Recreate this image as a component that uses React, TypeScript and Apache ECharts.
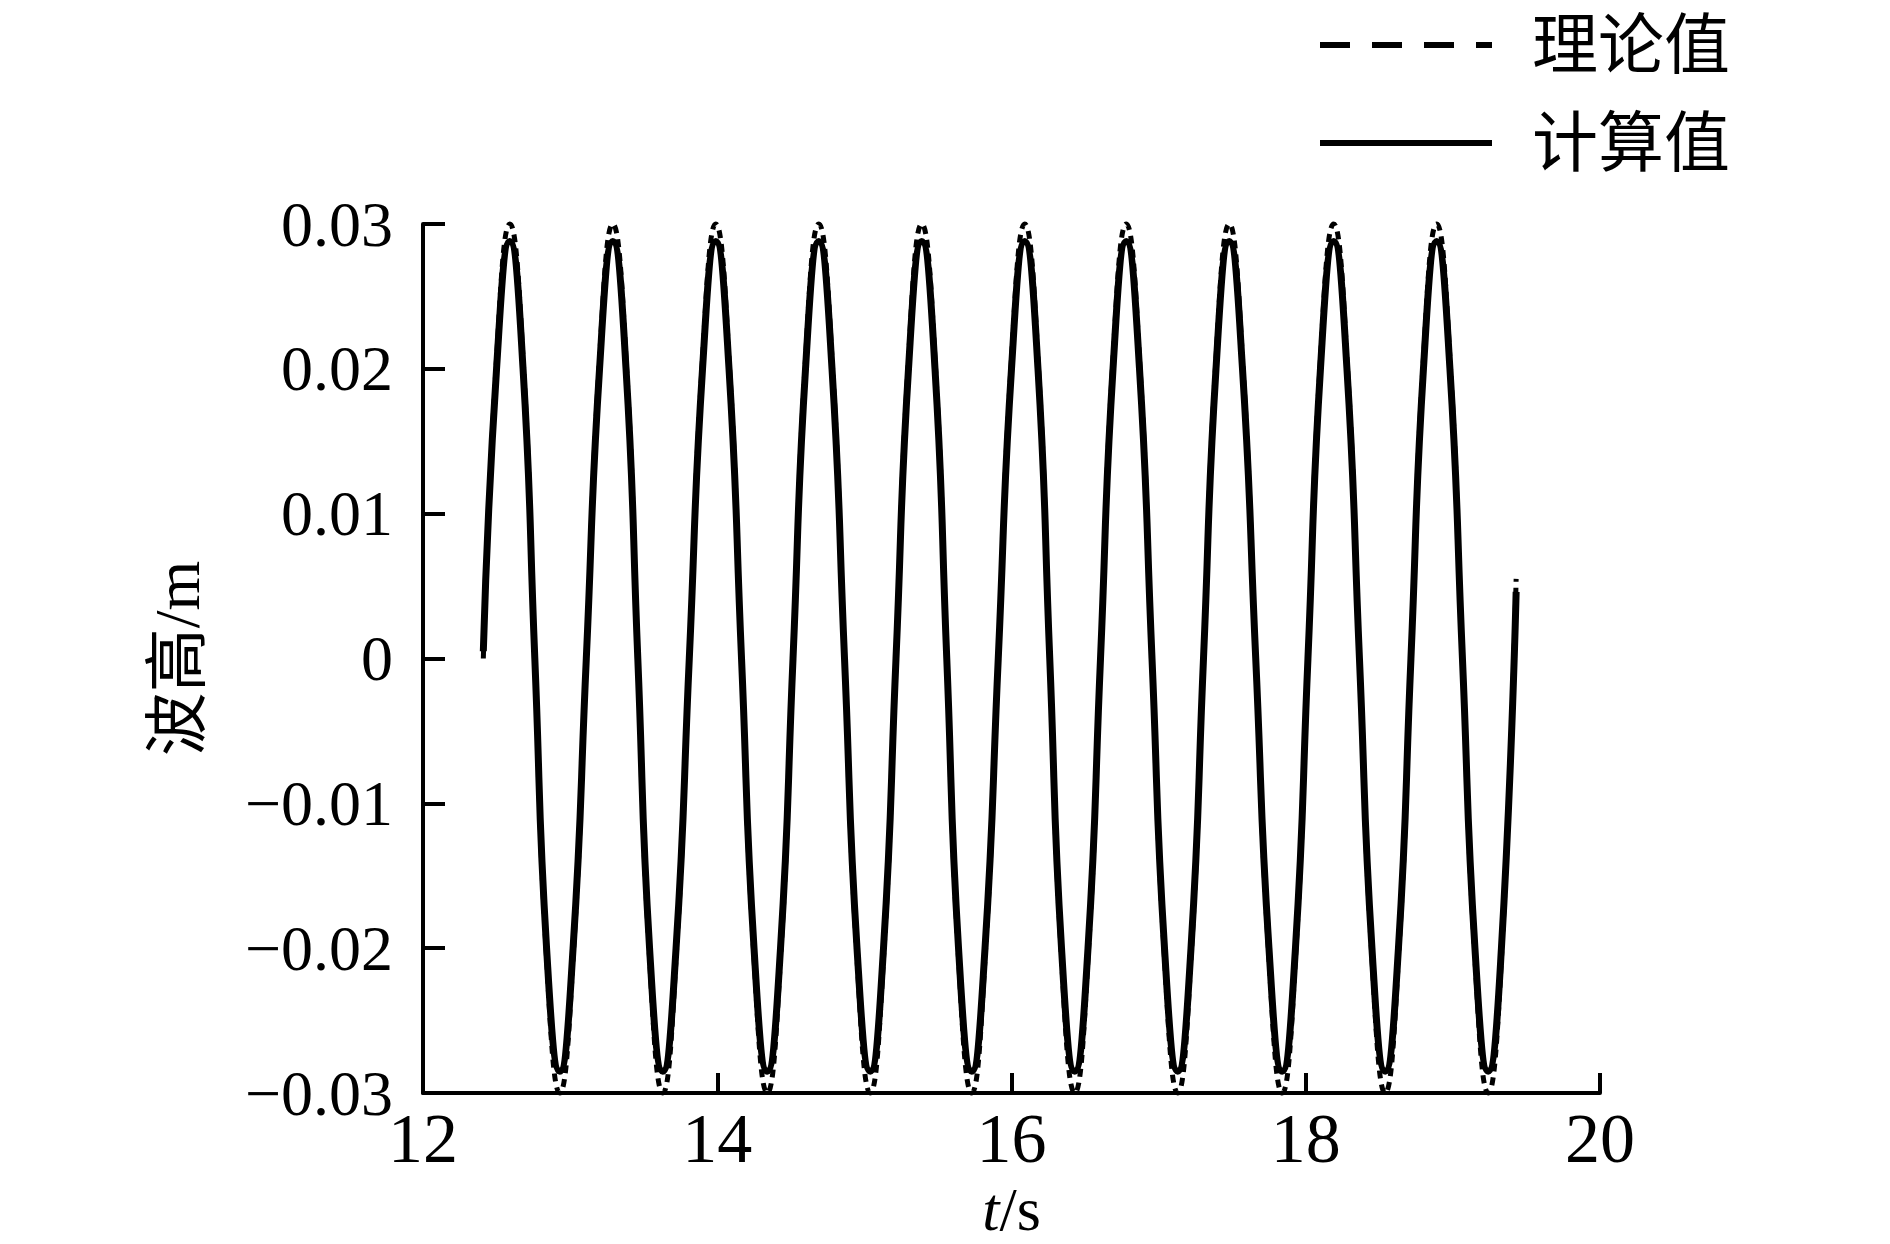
import React, { useEffect, useRef } from "react";
import * as echarts from "echarts";

// time stamps (s): start, then per cycle 0.02-level, peak, 0.02-level, zero, -0.02-level, trough, -0.02-level, zero
const timeS = [
  12.41,
  12.50, 12.59, 12.68, 12.76, 12.84, 12.93, 13.02, 13.11,
  13.20, 13.29, 13.38, 13.46, 13.54, 13.63, 13.72, 13.81,
  13.90, 13.99, 14.08, 14.165, 14.25, 14.34, 14.43, 14.515,
  14.60, 14.69, 14.78, 14.865, 14.95, 15.04, 15.13, 15.215,
  15.30, 15.39, 15.48, 15.56, 15.64, 15.73, 15.82, 15.91,
  16.00, 16.09, 16.18, 16.26, 16.34, 16.43, 16.52, 16.605,
  16.69, 16.78, 16.87, 16.955, 17.04, 17.13, 17.22, 17.305,
  17.39, 17.48, 17.57, 17.66, 17.75, 17.84, 17.93, 18.015,
  18.10, 18.19, 18.28, 18.365, 18.45, 18.54, 18.63, 18.715,
  18.80, 18.89, 18.98, 19.065, 19.15, 19.24, 19.33, 19.43,
];

// 计算值 (computed wave height, m)
const calcH = [
  0.0005,
  0.020, 0.0288, 0.020, 0, -0.020, -0.0285, -0.020, 0,
  0.020, 0.0288, 0.020, 0, -0.020, -0.0285, -0.020, 0,
  0.020, 0.0288, 0.020, 0, -0.020, -0.0285, -0.020, 0,
  0.020, 0.0288, 0.020, 0, -0.020, -0.0285, -0.020, 0,
  0.020, 0.0288, 0.020, 0, -0.020, -0.0285, -0.020, 0,
  0.020, 0.0288, 0.020, 0, -0.020, -0.0285, -0.020, 0,
  0.020, 0.0288, 0.020, 0, -0.020, -0.0285, -0.020, 0,
  0.020, 0.0288, 0.020, 0, -0.020, -0.0285, -0.020, 0,
  0.020, 0.0288, 0.020, 0, -0.020, -0.0285, -0.020, 0,
  0.020, 0.0288, 0.020, 0, -0.020, -0.0285, -0.020, 0.0046,
];

// 理论值 (theoretical wave height, m)
const theoryH = [
  0.0,
  0.0207, 0.030, 0.0207, 0, -0.0207, -0.030, -0.0207, 0,
  0.0207, 0.030, 0.0207, 0, -0.0207, -0.030, -0.0207, 0,
  0.0207, 0.030, 0.0207, 0, -0.0207, -0.030, -0.0207, 0,
  0.0207, 0.030, 0.0207, 0, -0.0207, -0.030, -0.0207, 0,
  0.0207, 0.030, 0.0207, 0, -0.0207, -0.030, -0.0207, 0,
  0.0207, 0.030, 0.0207, 0, -0.0207, -0.030, -0.0207, 0,
  0.0207, 0.030, 0.0207, 0, -0.0207, -0.030, -0.0207, 0,
  0.0207, 0.030, 0.0207, 0, -0.0207, -0.030, -0.0207, 0,
  0.0207, 0.030, 0.0207, 0, -0.0207, -0.030, -0.0207, 0,
  0.0207, 0.030, 0.0207, 0, -0.0207, -0.030, -0.0207, 0.0055,
];

const seriesNames = ["理论值", "计算值"];
const xTicks = { min: 12, max: 20, interval: 2 };
const yTicks = { min: -0.03, max: 0.03, interval: 0.01 };

const FONT = '"Liberation Serif", "Times New Roman", "Noto Sans CJK SC", serif';

// legend swatches (172 x 6 px): dashed and solid
const DASH_ICON = "path://M0,0H30V6H0Z M52,0H82V6H52Z M104,0H134V6H104Z M156,0H172V6H156Z";
const SOLID_ICON = "path://M0,0H172V6H0Z";

export default function App() {
  const ref = useRef<HTMLDivElement>(null);
  useEffect(() => {
    if (!ref.current) return;
    const chart = echarts.init(ref.current, null, { renderer: "svg" });
    const calcData = timeS.map((t, i) => [t, calcH[i]]);
    const theoryData = timeS.map((t, i) => [t, theoryH[i]]);
    chart.setOption({
      animation: false,
      backgroundColor: "#ffffff",
      color: ["#000000", "#000000"],
      grid: {
        left: 423,
        right: 290,
        top: 224,
        bottom: 151,
        containLabel: false,
        outerBoundsMode: "none",
      },
      legend: {
        orient: "vertical",
        right: 160,
        top: 12,
        padding: 0,
        itemWidth: 172,
        itemHeight: 6,
        itemGap: 32,
        symbolKeepAspect: false,
        itemStyle: { color: "#000", borderWidth: 0 },
        textStyle: {
          fontFamily: FONT,
          fontSize: 66,
          color: "#000",
          lineHeight: 66,
          padding: [0, 0, 0, 35],
        },
        data: [
          { name: seriesNames[0], icon: DASH_ICON },
          { name: seriesNames[1], icon: SOLID_ICON },
        ],
      },
      xAxis: {
        type: "value",
        min: xTicks.min,
        max: xTicks.max,
        interval: xTicks.interval,
        name: "{i|t}/s",
        nameLocation: "middle",
        nameGap: 84,
        nameTextStyle: {
          fontFamily: FONT,
          fontSize: 62,
          lineHeight: 62,
          color: "#000",
          rich: {
            i: { fontFamily: FONT, fontSize: 62, lineHeight: 62, fontStyle: "italic", color: "#000" },
          },
        },
        axisLine: { show: true, onZero: false, lineStyle: { color: "#000", width: 4 } },
        axisTick: { show: true, inside: true, length: 20, lineStyle: { color: "#000", width: 4 } },
        axisLabel: { fontFamily: FONT, fontSize: 70, color: "#000", margin: 10 },
        splitLine: { show: false },
      },
      yAxis: {
        type: "value",
        min: yTicks.min,
        max: yTicks.max,
        interval: yTicks.interval,
        name: "波高/m",
        nameLocation: "middle",
        nameRotate: 90,
        nameGap: 214,
        nameTextStyle: { fontFamily: FONT, fontSize: 64, color: "#000" },
        axisLine: { show: true, onZero: false, lineStyle: { color: "#000", width: 4 } },
        axisTick: { show: true, inside: true, length: 22, lineStyle: { color: "#000", width: 4 } },
        axisLabel: {
          fontFamily: FONT,
          fontSize: 64,
          color: "#000",
          margin: 30,
          formatter: (v: number) => {
            const r = Math.round(v * 100) / 100;
            if (r === 0) return "0";
            return (r < 0 ? "\u2212" : "") + Math.abs(r).toFixed(2);
          },
        },
        splitLine: { show: false },
      },
      series: [
        {
          name: seriesNames[1],
          type: "line",
          data: calcData,
          smooth: 0.5,
          showSymbol: false,
          symbol: "none",
          clip: false,
          itemStyle: { color: "#000" },
          lineStyle: { color: "#000", width: 7, type: "solid" },
          z: 2,
        },
        {
          name: seriesNames[0],
          type: "line",
          data: theoryData,
          smooth: 0.5,
          showSymbol: false,
          symbol: "none",
          clip: false,
          itemStyle: { color: "#000" },
          lineStyle: { color: "#000", width: 5, type: [8, 6] },
          z: 3,
        },
      ],
    });
    return () => chart.dispose();
  }, []);
  return (
    <div
      ref={ref}
      style={{ position: "fixed", left: 0, top: 0, width: 1890, height: 1244 }}
    />
  );
}
